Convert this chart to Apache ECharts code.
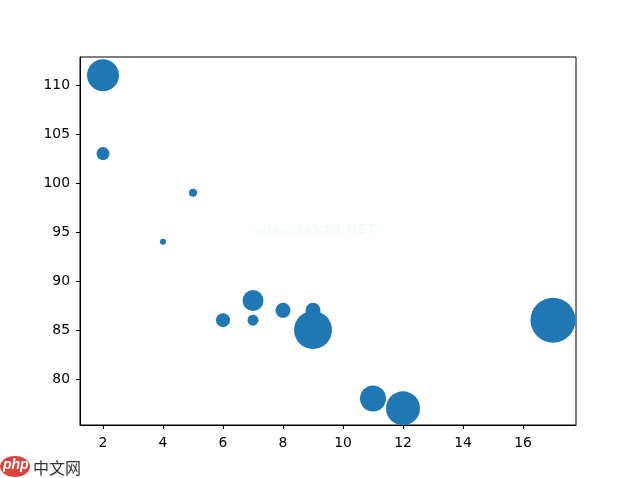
<!DOCTYPE html>
<html><head><meta charset="utf-8">
<style>html,body{margin:0;padding:0;background:#fff}#c{width:640px;height:478px}</style>
<script src="https://cdn.jsdelivr.net/npm/echarts@6/dist/echarts.min.js"></script>
</head><body><div id="c"></div>
<script>
const xValues = [5,7,8,7,2,17,2,9,4,11,12,9,6];
const yValues = [99,86,87,88,111,86,103,87,94,78,77,85,86];
const diameters = [8,11,15,21,32,45,13,15,6,26,34,38,14];
const xTicks = [2,4,6,8,10,12,14,16];
const yTicks = [80,85,90,95,100,105,110];
const points = xValues.map((x,i)=>[x,yValues[i],diameters[i]]);
const font = 'DejaVu Sans';
const chart = echarts.init(document.getElementById('c'),null,{renderer:'canvas'});
const lineStyle = {color:'#000',width:1};
const axisFor = (ticks,min,max,margin,padding) => ({
  type:'value',min,max,
  axisLine:{show:true,onZero:false,lineStyle},
  axisTick:{show:true,length:4,inside:false,lineStyle,customValues:ticks},
  splitLine:{show:false},
  axisLabel:{color:'#000',fontFamily:font,fontSize:13.9,margin,padding,customValues:ticks}
});
chart.setOption({
  animation:false,
  backgroundColor:'#fff',
  grid:{left:80,right:64,top:57,bottom:53,show:true,borderColor:'#000',borderWidth:1,backgroundColor:'transparent'},
  xAxis:axisFor(xTicks,1.2333,17.7667,11,0),
  yAxis:axisFor(yTicks,75.3,112.86,10,[2,0,0,0]),
  series:[{type:'scatter',data:points,symbol:'circle',
    symbolSize:d=>d[2],
    itemStyle:{color:'#1f77b4',opacity:1},clip:false,silent:true}],
  graphic:[
    {type:'text',left:254,top:223,style:{text:'www.1kkzd.NET',fill:'#f4fcfa',fontFamily:font,fontSize:13.5,fontWeight:'bold'}},
    {type:'group',left:0,top:456,children:[
      {type:'ellipse',shape:{cx:15,cy:12,rx:15,ry:10.5},style:{fill:'#d8453e'}},
      {type:'text',style:{x:3,y:4,text:'php',fill:'#fff',fontFamily:'Liberation Sans',fontSize:14,fontStyle:'italic',fontWeight:'bold'}},
      {type:'text',style:{x:33,y:5,text:'中文网',fill:'#333',fontFamily:'Noto Sans CJK SC',fontSize:16}}
    ]}
  ]
});
</script></body></html>
